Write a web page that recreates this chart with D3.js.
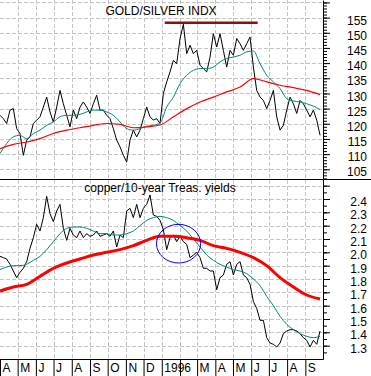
<!DOCTYPE html>
<html>
<head>
<meta charset="utf-8">
<script src="https://cdn.jsdelivr.net/npm/d3@7"></script>
<style>
  body { margin: 0; background: #fff; }
  svg { display: block; font-family: Arial, "Liberation Sans", sans-serif; }
</style>
</head>
<body>
<div id="chart"></div>
<script>
// readings start 1 Apr 1995; daily-ish series read every ~5.7 days
var startDate = new Date(1995, 3, 1);
var endDate = new Date(1996, 9, 1);

var goldPrice = [
  122.8, 121.7, 120.1, 124.5, 125.0, 118.4, 116.8, 109.6, 114.6, 115.7,
  120.1, 121.2, 122.3, 125.5, 128.8, 123.9, 120.6, 125.5, 131.0, 126.6,
  122.8, 119.0, 124.5, 121.7, 125.5, 127.2, 125.5, 123.4, 126.6, 129.4,
  124.5, 124.5, 122.8, 121.7, 118.4, 114.6, 112.4, 109.6, 107.4, 114.6,
  117.9, 115.7, 117.9, 121.7, 125.5, 122.3, 121.2, 121.7, 120.1, 130.0,
  133.8, 137.1, 140.9, 139.8, 148.1, 152.8, 143.1, 145.9, 143.1, 144.2,
  139.3, 138.2, 137.1, 142.0, 149.7, 145.3, 149.7, 144.2, 138.7, 144.2,
  142.6, 148.1, 146.4, 144.2, 146.4, 148.6, 138.7, 131.0, 128.8, 127.7,
  125.0, 127.7, 131.0, 122.3, 117.9, 119.5, 124.5, 128.8, 126.6, 123.4,
  127.7, 126.6, 124.5, 122.3, 124.5, 121.2, 116.2
];
// short moving average, every ~11 days
var goldFast = [
  110.2, 113.5, 115.7, 116.2, 115.1, 116.8, 117.9, 119.5, 120.6, 122.3,
  122.8, 122.8, 123.1, 123.9, 124.5, 124.5, 123.9, 122.8, 120.6, 118.4,
  117.9, 118.4, 119.2, 119.5, 120.3, 125.5, 128.8, 133.2, 136.0, 137.6,
  138.2, 138.2, 138.7, 140.4, 141.5, 142.0, 142.6, 143.7, 144.0, 139.8,
  136.0, 133.8, 131.6, 128.3, 127.5, 127.2, 126.6, 125.8, 124.7
];
// long moving average, every ~23 days
var goldSlow = [
  111.8, 113.2, 114.0, 115.1, 116.8, 117.9, 118.7, 119.5, 120.1, 119.8,
  118.7, 119.0, 119.6, 122.3, 125.0, 127.2, 128.8, 130.5, 132.1, 134.9,
  133.8, 132.7, 131.9, 131.0, 129.6
];

var copperRatio = [
  1.97, 1.96, 1.95, 1.91, 1.86, 1.81, 1.85, 1.88, 1.93, 2.03,
  2.11, 2.21, 2.16, 2.26, 2.42, 2.29, 2.23, 2.31, 2.36, 2.18,
  2.09, 2.18, 2.13, 2.11, 2.16, 2.11, 2.14, 2.12, 2.13, 2.16,
  2.12, 2.13, 2.14, 2.12, 2.16, 2.04, 2.13, 2.11, 2.31, 2.33,
  2.26, 2.36, 2.26, 2.33, 2.36, 2.43, 2.28, 2.27, 2.24, 2.17,
  2.02, 2.11, 2.13, 2.08, 2.12, 2.08, 2.06, 1.96, 1.98, 2.00,
  1.96, 1.88, 1.88, 1.86, 1.86, 1.72, 1.81, 1.83, 1.91, 1.93,
  1.83, 1.91, 1.93, 1.83, 1.81, 1.76, 1.63, 1.58, 1.49, 1.49,
  1.36, 1.32, 1.31, 1.29, 1.32, 1.39, 1.41, 1.42, 1.42, 1.41,
  1.39, 1.36, 1.34, 1.29, 1.34, 1.31, 1.41
];
var copperFast = [
  1.87, 1.89, 1.90, 1.90, 1.91, 1.94, 1.97, 2.02, 2.08, 2.14,
  2.18, 2.19, 2.19, 2.18, 2.16, 2.14, 2.14, 2.13, 2.13, 2.14,
  2.16, 2.20, 2.24, 2.26, 2.27, 2.26, 2.24, 2.20, 2.16, 2.10,
  2.04, 1.98, 1.94, 1.91, 1.89, 1.87, 1.86, 1.84, 1.80, 1.75,
  1.67, 1.60, 1.52, 1.46, 1.42, 1.39, 1.37, 1.36, 1.37
];
var copperSlow = [
  1.71, 1.74, 1.76, 1.82, 1.88, 1.92, 1.95, 1.98, 2.00, 2.02,
  2.05, 2.09, 2.12, 2.12, 2.11, 2.09, 2.05, 2.03, 2.00, 1.96,
  1.90, 1.81, 1.74, 1.68, 1.65
];

var goldTicks = [105, 110, 115, 120, 125, 130, 135, 140, 145, 150, 155];
var copperTicks = [1.3, 1.4, 1.5, 1.6, 1.7, 1.8, 1.9, 2.0, 2.1, 2.2, 2.3, 2.4];
var monthLabels = ['A', 'M', 'J', 'J', 'A', 'S', 'O', 'N', 'D', '1996', '', 'M', 'A', 'M', 'J', 'J', 'A', 'S'];

// drawn notes
var topLine = {from: new Date(1996, 0, 6), to: new Date(1996, 5, 12), value: 153.3};
var ring = {from: new Date(1995, 11, 23), to: new Date(1996, 2, 7), hi: 2.21, lo: 1.92};

var width = 371, height = 376;
var plotRight = 323;

var svg = d3.select('#chart')
  .append('svg')
  .attr('width', width)
  .attr('height', height);

var x = d3.scaleTime().domain([startDate, endDate]).range([0, plotRight]);
var yGold = d3.scaleLinear().domain([101.8, 160.8]).range([179, 0]);
var yCopper = d3.scaleLinear().domain([1.2, 2.55]).range([359, 179]);

function series(values, hours) {
  return values.map(function (v, i) {
    return {date: d3.timeHour.offset(startDate, i * hours), value: v};
  });
}

var months = d3.timeMonth.range(startDate, endDate);

// grid
var grid = svg.append('g')
  .attr('stroke', '#c4c4c4')
  .attr('stroke-dasharray', '4,2')
  .attr('shape-rendering', 'crispEdges');

grid.selectAll('.vg')
  .data(months.slice(1))
  .enter().append('line')
  .attr('x1', function (d) { return Math.round(x(d)) + 0.5; })
  .attr('x2', function (d) { return Math.round(x(d)) + 0.5; })
  .attr('y1', 0)
  .attr('y2', 359);

grid.selectAll('.hg1')
  .data(d3.range(105, 161, 5))
  .enter().append('line')
  .attr('x1', 0).attr('x2', plotRight)
  .attr('y1', function (d) { return Math.round(yGold(d)) + 0.5; })
  .attr('y2', function (d) { return Math.round(yGold(d)) + 0.5; });

grid.selectAll('.hg2')
  .data(d3.range(13, 26).map(function (d) { return d / 10; }))
  .enter().append('line')
  .attr('x1', 0).attr('x2', plotRight)
  .attr('y1', function (d) { return Math.round(yCopper(d)) + 0.5; })
  .attr('y2', function (d) { return Math.round(yCopper(d)) + 0.5; });

// clips
var defs = svg.append('defs');
defs.append('clipPath').attr('id', 'clipTop')
  .append('rect').attr('x', 0).attr('y', 0).attr('width', plotRight).attr('height', 179);
defs.append('clipPath').attr('id', 'clipBottom')
  .append('rect').attr('x', 0).attr('y', 179).attr('width', plotRight).attr('height', 180);

function lineFor(y, curve) {
  return d3.line()
    .x(function (d) { return x(d.date); })
    .y(function (d) { return y(d.value); })
    .curve(curve || d3.curveLinear);
}

var topPanel = svg.append('g').attr('clip-path', 'url(#clipTop)');
topPanel.append('path')
  .attr('d', lineFor(yGold)(series(goldPrice, 136)))
  .attr('fill', 'none').attr('stroke', '#000').attr('stroke-width', 1);
topPanel.append('path')
  .attr('d', lineFor(yGold, d3.curveMonotoneX)(series(goldFast, 272)))
  .attr('fill', 'none').attr('stroke', '#008878').attr('stroke-width', 1);
topPanel.append('path')
  .attr('d', lineFor(yGold, d3.curveMonotoneX)(series(goldSlow, 544)))
  .attr('fill', 'none').attr('stroke', '#ff0000').attr('stroke-width', 1.2);

var bottomPanel = svg.append('g').attr('clip-path', 'url(#clipBottom)');
bottomPanel.append('path')
  .attr('d', lineFor(yCopper)(series(copperRatio, 136)))
  .attr('fill', 'none').attr('stroke', '#000').attr('stroke-width', 1);
bottomPanel.append('path')
  .attr('d', lineFor(yCopper, d3.curveMonotoneX)(series(copperFast, 272)))
  .attr('fill', 'none').attr('stroke', '#008878').attr('stroke-width', 1);
bottomPanel.append('path')
  .attr('d', lineFor(yCopper, d3.curveMonotoneX)(series(copperSlow, 544)))
  .attr('fill', 'none').attr('stroke', '#ff0000').attr('stroke-width', 3);

// notes
svg.append('line')
  .attr('x1', x(topLine.from)).attr('x2', x(topLine.to))
  .attr('y1', yGold(topLine.value)).attr('y2', yGold(topLine.value))
  .attr('stroke', '#8b1010').attr('stroke-width', 2.5);

svg.append('ellipse')
  .attr('cx', (x(ring.from) + x(ring.to)) / 2)
  .attr('cy', (yCopper(ring.hi) + yCopper(ring.lo)) / 2)
  .attr('rx', (x(ring.to) - x(ring.from)) / 2)
  .attr('ry', (yCopper(ring.lo) - yCopper(ring.hi)) / 2)
  .attr('fill', 'none').attr('stroke', '#0000ff').attr('stroke-width', 1);

// titles
svg.append('text').attr('x', 161).attr('y', 15)
  .attr('text-anchor', 'middle').attr('font-size', 12).text('GOLD/SILVER INDX');
svg.append('text').attr('x', 160).attr('y', 192)
  .attr('text-anchor', 'middle').attr('font-size', 12).text('copper/10-year Treas. yields');

// right axes
function rightAxis(y, minor, major, fmt) {
  svg.append('g')
    .attr('transform', 'translate(' + plotRight + ',0)')
    .call(d3.axisRight(y).tickValues(minor).tickSize(4).tickSizeOuter(0).tickFormat(''))
    .call(function (g) { g.select('.domain').remove(); });
  var g = svg.append('g')
    .attr('transform', 'translate(' + plotRight + ',0)')
    .call(d3.axisRight(y).tickValues(major).tickSize(7).tickSizeOuter(0).tickFormat(fmt));
  g.attr('font-size', 12).attr('font-family', null);
  g.selectAll('text')
    .attr('x', 44).attr('dy', '0.55em')
    .attr('text-anchor', 'end').attr('fill', '#000');
}

rightAxis(yGold, d3.range(102, 161), d3.range(105, 161, 5), function (d) {
  return goldTicks.indexOf(d) >= 0 ? d : '';
});
rightAxis(yCopper, d3.range(25, 51).map(function (d) { return d / 20; }),
  d3.range(13, 26).map(function (d) { return d / 10; }), function (d) {
    return copperTicks.indexOf(d) >= 0 ? d3.format('.1f')(d) : '';
  });

// panel divider
svg.append('line')
  .attr('x1', 0).attr('x2', width)
  .attr('y1', 179.5).attr('y2', 179.5)
  .attr('stroke', '#000');

// month axis
var xAxis = svg.append('g')
  .attr('transform', 'translate(0,359)')
  .call(d3.axisBottom(x).tickValues(months).tickSize(17).tickSizeOuter(0)
    .tickFormat(function (d, i) { return monthLabels[i]; }));
xAxis.attr('font-size', 12).attr('font-family', null);
xAxis.selectAll('text')
  .attr('x', 2).attr('y', 13).attr('dy', 0)
  .attr('text-anchor', 'start').attr('fill', '#000');
</script>
</body>
</html>
